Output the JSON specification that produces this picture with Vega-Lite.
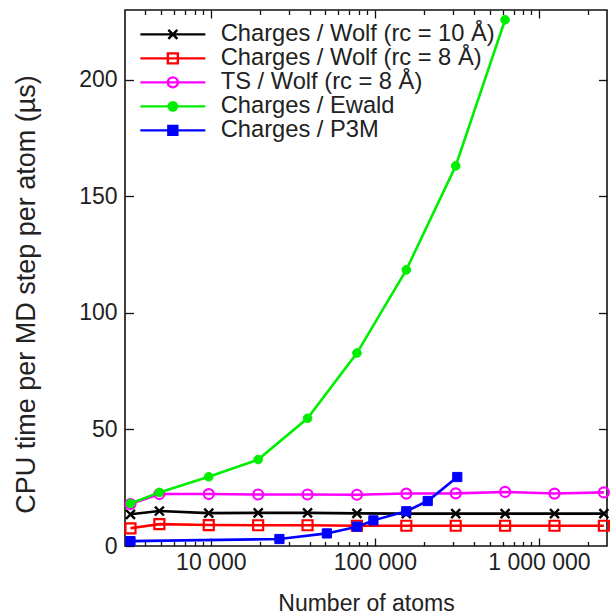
{
  "$schema": "https://vega.github.io/schema/vega-lite/v6.json",
  "width": 482,
  "height": 536,
  "autosize": {"type": "none"},
  "padding": {"left": 125, "top": 10, "right": 3, "bottom": 68},
  "background": "white",
  "config": {
    "font": "Liberation Sans",
    "view": {"stroke": "#111111", "strokeWidth": 1.6},
    "axis": {
      "grid": false,
      "domain": false,
      "labelFont": "Liberation Sans",
      "titleFont": "Liberation Sans",
      "labelFontSize": 23,
      "titleFontSize": 23,
      "titleFontWeight": "normal",
      "labelColor": "#222222",
      "titleColor": "#222222",
      "tickColor": "#111111",
      "tickWidth": 1.3
    }
  },
  "datasets": {
    "main": [
      {"n": 3240, "t": 13.6, "series": "Charges / Wolf (rc = 10 Å)"},
      {"n": 4860, "t": 15.0, "series": "Charges / Wolf (rc = 10 Å)"},
      {"n": 9720, "t": 14.1, "series": "Charges / Wolf (rc = 10 Å)"},
      {"n": 19440, "t": 14.2, "series": "Charges / Wolf (rc = 10 Å)"},
      {"n": 38880, "t": 14.2, "series": "Charges / Wolf (rc = 10 Å)"},
      {"n": 77760, "t": 14.0, "series": "Charges / Wolf (rc = 10 Å)"},
      {"n": 155520, "t": 13.9, "series": "Charges / Wolf (rc = 10 Å)"},
      {"n": 311040, "t": 13.9, "series": "Charges / Wolf (rc = 10 Å)"},
      {"n": 622080, "t": 13.9, "series": "Charges / Wolf (rc = 10 Å)"},
      {"n": 1244160, "t": 13.9, "series": "Charges / Wolf (rc = 10 Å)"},
      {"n": 2488320, "t": 13.9, "series": "Charges / Wolf (rc = 10 Å)"},
      {"n": 3240, "t": 7.6, "series": "Charges / Wolf (rc = 8 Å)"},
      {"n": 4860, "t": 9.4, "series": "Charges / Wolf (rc = 8 Å)"},
      {"n": 9720, "t": 9.0, "series": "Charges / Wolf (rc = 8 Å)"},
      {"n": 19440, "t": 8.9, "series": "Charges / Wolf (rc = 8 Å)"},
      {"n": 38880, "t": 8.9, "series": "Charges / Wolf (rc = 8 Å)"},
      {"n": 77760, "t": 8.7, "series": "Charges / Wolf (rc = 8 Å)"},
      {"n": 155520, "t": 8.7, "series": "Charges / Wolf (rc = 8 Å)"},
      {"n": 311040, "t": 8.7, "series": "Charges / Wolf (rc = 8 Å)"},
      {"n": 622080, "t": 8.7, "series": "Charges / Wolf (rc = 8 Å)"},
      {"n": 1244160, "t": 8.7, "series": "Charges / Wolf (rc = 8 Å)"},
      {"n": 2488320, "t": 8.7, "series": "Charges / Wolf (rc = 8 Å)"},
      {"n": 3240, "t": 18.0, "series": "TS / Wolf (rc = 8 Å)"},
      {"n": 4860, "t": 22.3, "series": "TS / Wolf (rc = 8 Å)"},
      {"n": 9720, "t": 22.3, "series": "TS / Wolf (rc = 8 Å)"},
      {"n": 19440, "t": 22.1, "series": "TS / Wolf (rc = 8 Å)"},
      {"n": 38880, "t": 22.1, "series": "TS / Wolf (rc = 8 Å)"},
      {"n": 77760, "t": 22.0, "series": "TS / Wolf (rc = 8 Å)"},
      {"n": 155520, "t": 22.5, "series": "TS / Wolf (rc = 8 Å)"},
      {"n": 311040, "t": 22.6, "series": "TS / Wolf (rc = 8 Å)"},
      {"n": 622080, "t": 23.2, "series": "TS / Wolf (rc = 8 Å)"},
      {"n": 1244160, "t": 22.5, "series": "TS / Wolf (rc = 8 Å)"},
      {"n": 2488320, "t": 23.0, "series": "TS / Wolf (rc = 8 Å)"},
      {"n": 3240, "t": 18.2, "series": "Charges / Ewald"},
      {"n": 4860, "t": 23.0, "series": "Charges / Ewald"},
      {"n": 9720, "t": 29.7, "series": "Charges / Ewald"},
      {"n": 19440, "t": 37.1, "series": "Charges / Ewald"},
      {"n": 38880, "t": 54.8, "series": "Charges / Ewald"},
      {"n": 77760, "t": 82.8, "series": "Charges / Ewald"},
      {"n": 155520, "t": 118.5, "series": "Charges / Ewald"},
      {"n": 311040, "t": 163.1, "series": "Charges / Ewald"},
      {"n": 622080, "t": 225.8, "series": "Charges / Ewald"},
      {"n": 3240, "t": 2.1, "series": "Charges / P3M"},
      {"n": 26200, "t": 3.0, "series": "Charges / P3M"},
      {"n": 51000, "t": 5.4, "series": "Charges / P3M"},
      {"n": 77760, "t": 8.3, "series": "Charges / P3M"},
      {"n": 98000, "t": 11.0, "series": "Charges / P3M"},
      {"n": 155520, "t": 14.9, "series": "Charges / P3M"},
      {"n": 210000, "t": 19.3, "series": "Charges / P3M"},
      {"n": 318000, "t": 29.6, "series": "Charges / P3M"}
    ]
  },
  "data": {"name": "main"},
  "layer": [
    {
      "transform": [{"filter": "datum.series == 'Charges / Wolf (rc = 10 Å)'"}],
      "mark": {"type": "line", "strokeWidth": 2.6, "stroke": "#000000"},
      "encoding": {
        "x": {
          "field": "n", "type": "quantitative",
          "scale": {"type": "log", "domain": [3000, 2600000], "nice": false},
          "axis": {
            "orient": "bottom",
            "title": "Number of atoms",
            "titleX": 241,
            "titleY": 64,
            "titleBaseline": "alphabetic",
            "values": [10000, 100000, 1000000],
            "labelExpr": "datum.value == 10000 ? '10 000' : datum.value == 100000 ? '100 000' : '1 000 000'",
            "labelOverlap": false,
            "labelFlush": false,
            "labelBaseline": "alphabetic",
            "labelPadding": 31,
            "tickSize": -8
          }
        },
        "y": {
          "field": "t", "type": "quantitative",
          "scale": {"domain": [0, 230], "nice": false, "zero": true},
          "axis": {
            "orient": "left",
            "title": "CPU time per MD step per atom (µs)",
            "titleFontSize": 27,
            "titleX": -91,
            "titleY": 284,
            "titleBaseline": "alphabetic",
            "values": [0, 50, 100, 150, 200],
            "tickSize": -8.5,
            "labelPadding": 16.5
          }
        }
      }
    },
    {
      "transform": [{"filter": "datum.series == 'Charges / Wolf (rc = 10 Å)'"}],
      "mark": {"type": "point", "shape": "M-1,-1L1,1M-1,1L1,-1", "size": 80, "stroke": "#000000", "strokeWidth": 2.4, "fill": "transparent", "opacity": 1},
      "encoding": {
        "x": {
          "field": "n", "type": "quantitative",
          "axis": {
            "orient": "bottom", "title": null, "labels": false,
            "values": [4000,5000,6000,7000,8000,9000,20000,30000,40000,50000,60000,70000,80000,90000,200000,300000,400000,500000,600000,700000,800000,900000,2000000],
            "tickSize": -4.5
          }
        },
        "y": {"field": "t", "type": "quantitative", "axis": null}
      }
    },
    {
      "transform": [{"filter": "datum.series == 'Charges / Wolf (rc = 8 Å)'"}],
      "mark": {"type": "line", "strokeWidth": 2.6, "stroke": "#ff0000"},
      "encoding": {
        "x": {
          "field": "n", "type": "quantitative",
          "axis": {
            "orient": "top", "title": null, "labels": false,
            "values": [4000,5000,6000,7000,8000,9000,20000,30000,40000,50000,60000,70000,80000,90000,200000,300000,400000,500000,600000,700000,800000,900000,2000000],
            "tickSize": -4.5
          }
        },
        "y": {"field": "t", "type": "quantitative", "axis": null}
      }
    },
    {
      "transform": [{"filter": "datum.series == 'Charges / Wolf (rc = 8 Å)'"}],
      "mark": {"type": "point", "shape": "square", "size": 100, "stroke": "#ff0000", "strokeWidth": 2.2, "fill": "transparent", "opacity": 1},
      "encoding": {
        "x": {"field": "n", "type": "quantitative", "axis": null},
        "y": {"field": "t", "type": "quantitative", "axis": null}
      }
    },
    {
      "transform": [{"filter": "datum.series == 'TS / Wolf (rc = 8 Å)'"}],
      "mark": {"type": "line", "strokeWidth": 2.6, "stroke": "#ff00ff"},
      "encoding": {
        "x": {"field": "n", "type": "quantitative", "axis": null},
        "y": {"field": "t", "type": "quantitative", "axis": null}
      }
    },
    {
      "transform": [{"filter": "datum.series == 'TS / Wolf (rc = 8 Å)'"}],
      "mark": {"type": "point", "shape": "circle", "size": 100, "stroke": "#ff00ff", "strokeWidth": 2.2, "fill": "transparent", "opacity": 1},
      "encoding": {
        "x": {"field": "n", "type": "quantitative", "axis": null},
        "y": {"field": "t", "type": "quantitative", "axis": null}
      }
    },
    {
      "transform": [{"filter": "datum.series == 'Charges / Ewald'"}],
      "mark": {"type": "line", "strokeWidth": 2.6, "stroke": "#00ee00"},
      "encoding": {
        "x": {"field": "n", "type": "quantitative", "axis": null},
        "y": {"field": "t", "type": "quantitative", "axis": null}
      }
    },
    {
      "transform": [{"filter": "datum.series == 'Charges / Ewald'"}],
      "mark": {"type": "point", "shape": "circle", "size": 75, "stroke": "#00ee00", "strokeWidth": 1, "fill": "#00ee00", "opacity": 1},
      "encoding": {
        "x": {"field": "n", "type": "quantitative", "axis": null},
        "y": {"field": "t", "type": "quantitative", "axis": null}
      }
    },
    {
      "transform": [{"filter": "datum.series == 'Charges / P3M'"}],
      "mark": {"type": "line", "strokeWidth": 2.6, "stroke": "#0000ff"},
      "encoding": {
        "x": {"field": "n", "type": "quantitative", "axis": null},
        "y": {"field": "t", "type": "quantitative", "axis": null}
      }
    },
    {
      "transform": [{"filter": "datum.series == 'Charges / P3M'"}],
      "mark": {"type": "point", "shape": "square", "size": 85, "stroke": "#0000ff", "strokeWidth": 1, "fill": "#0000ff", "opacity": 1},
      "encoding": {
        "x": {"field": "n", "type": "quantitative", "axis": null},
        "y": {"field": "t", "type": "quantitative", "axis": null}
      }
    },
    {
      "mark": {"type": "point", "size": 0, "strokeWidth": 2.4, "opacity": 1},
      "encoding": {
        "x": {"field": "n", "type": "quantitative", "axis": null},
        "y": {"field": "t", "type": "quantitative", "axis": null},
        "shape": {
          "field": "series", "type": "nominal",
          "scale": {
            "domain": ["Charges / Wolf (rc = 10 Å)", "Charges / Wolf (rc = 8 Å)", "TS / Wolf (rc = 8 Å)", "Charges / Ewald", "Charges / P3M"],
            "range": [
              "M-3.25,0H3.25M-0.45,-0.45L0.45,0.45M-0.45,0.45L0.45,-0.45",
              "M-3.25,0H3.25M-0.5,-0.5H0.5V0.5H-0.5Z",
              "M-3.25,0H3.25M0.5,0A0.5,0.5,0,1,1,-0.5,0A0.5,0.5,0,1,1,0.5,0Z",
              "M-3.25,0H3.25M0.42,0A0.42,0.42,0,1,1,-0.42,0A0.42,0.42,0,1,1,0.42,0Z",
              "M-3.25,0H3.25M-0.45,-0.45H0.45V0.45H-0.45Z"
            ]
          },
          "legend": {"title": null, "orient": "none", "legendX": 36, "legendY": 12.5, "padding": 0, "labelFont": "Liberation Sans", "labelFontSize": 23.7, "labelColor": "#222222", "labelLimit": 0, "labelOffset": 36, "symbolSize": 400, "symbolStrokeWidth": 2.4, "symbolOpacity": 1, "rowPadding": -1.6}
        },
        "stroke": {
          "field": "series", "type": "nominal",
          "scale": {
            "domain": ["Charges / Wolf (rc = 10 Å)", "Charges / Wolf (rc = 8 Å)", "TS / Wolf (rc = 8 Å)", "Charges / Ewald", "Charges / P3M"],
            "range": ["#000000", "#ff0000", "#ff00ff", "#00ee00", "#0000ff"]
          },
          "legend": {"title": null, "orient": "none", "legendX": 36, "legendY": 12.5, "padding": 0, "labelFont": "Liberation Sans", "labelFontSize": 23.7, "labelColor": "#222222", "labelLimit": 0, "labelOffset": 36, "symbolSize": 400, "symbolStrokeWidth": 2.4, "symbolOpacity": 1, "rowPadding": -1.6}
        },
        "fill": {
          "field": "series", "type": "nominal",
          "scale": {
            "domain": ["Charges / Wolf (rc = 10 Å)", "Charges / Wolf (rc = 8 Å)", "TS / Wolf (rc = 8 Å)", "Charges / Ewald", "Charges / P3M"],
            "range": ["transparent", "transparent", "transparent", "#00ee00", "#0000ff"]
          },
          "legend": {"title": null, "orient": "none", "legendX": 36, "legendY": 12.5, "padding": 0, "labelFont": "Liberation Sans", "labelFontSize": 23.7, "labelColor": "#222222", "labelLimit": 0, "labelOffset": 36, "symbolSize": 400, "symbolStrokeWidth": 2.4, "symbolOpacity": 1, "rowPadding": -1.6}
        }
      }
    },
    {
      "mark": {"type": "point", "size": 0, "opacity": 0},
      "encoding": {
        "x": {
          "field": "n", "type": "quantitative",
          "axis": {
            "orient": "top", "title": null, "labels": false,
            "values": [10000, 100000, 1000000],
            "tickSize": -8
          }
        },
        "y": {
          "field": "t", "type": "quantitative",
          "axis": {"orient": "right", "title": null, "labels": false, "values": [50, 100, 150, 200], "tickSize": -8.5}
        }
      }
    }
  ],
  "resolve": {"axis": {"x": "independent", "y": "independent"}}
}
